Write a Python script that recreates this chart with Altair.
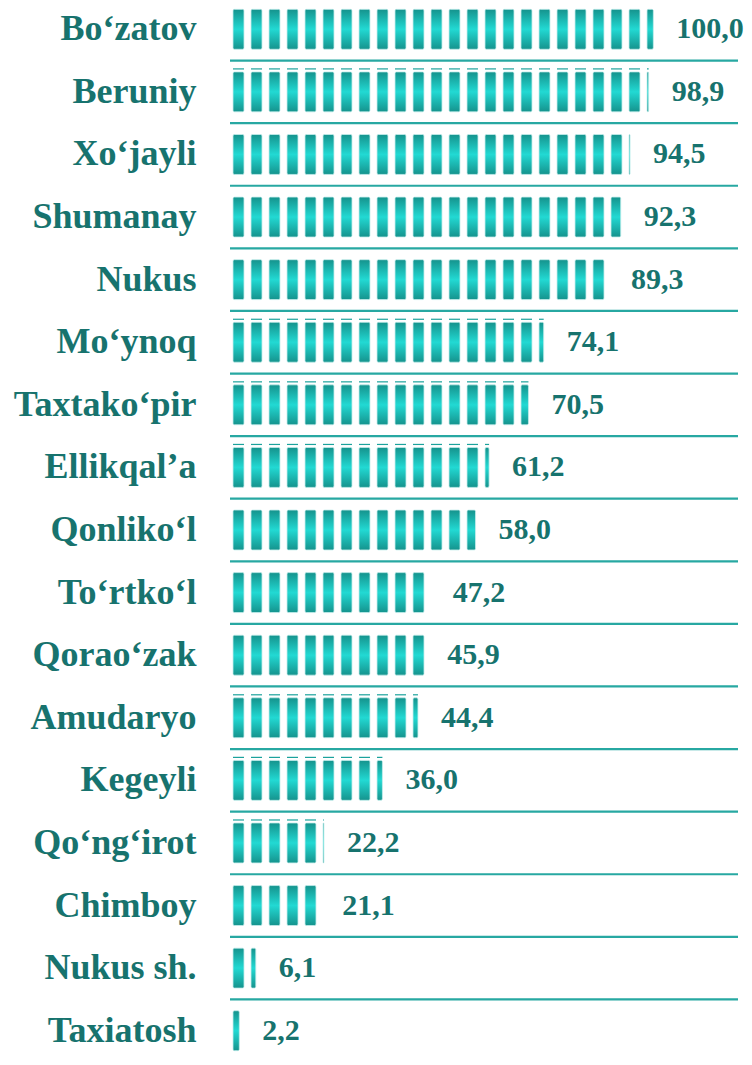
import altair as alt
import pandas as pd

categories = ["Bo‘zatov", "Beruniy", "Xo‘jayli", "Shumanay", "Nukus\u00a0", "Mo‘ynoq",
              "Taxtako‘pir", "Ellikqal’a", "Qonliko‘l", "To‘rtko‘l", "Qorao‘zak",
              "Amudaryo", "Kegeyli", "Qo‘ng‘irot", "Chimboy", "Nukus sh.", "Taxiatosh"]
values = [100.0, 98.9, 94.5, 92.3, 89.3, 74.1, 70.5, 61.2, 58.0, 47.2, 45.9,
          44.4, 36.0, 22.2, 21.1, 6.1, 2.2]
# rows whose pictogram icons carry a thin cap line above them
capped = [False, True, False, False, False, True, True, True, False, False, False,
          True, True, True, False, False, False]

X_MAX = 120
WIDTH = 508
HEIGHT = 1064
U = X_MAX / WIDTH            # data units per pixel
PERIOD = 18 * U              # pictogram cell
OFFSET = 3 * U
SEG_W = 11 * U

seg_rows = []
for c, v, cap in zip(categories, values, capped):
    k = 0
    while True:
        s = k * PERIOD + OFFSET
        if s >= v:
            break
        seg_rows.append({"cat": c, "x0": s, "x1": min(s + SEG_W, v), "cap": cap})
        k += 1
segs = pd.DataFrame(seg_rows)

vals = pd.DataFrame({
    "cat": categories,
    "val": values,
    "lab": [f"{v:.1f}".replace(".", ",") for v in values],
})

FONT = "Liberation Serif, Times New Roman, serif"
TEAL_TXT = "#17736e"
PAD_IN = 0.362
yscale = alt.Scale(domain=categories, paddingInner=PAD_IN, paddingOuter=PAD_IN / 2)
xscale = alt.Scale(domain=[0, X_MAX], nice=False, zero=True)
STEP = HEIGHT / len(categories)
BAND = STEP * (1 - PAD_IN)

grad = alt.Gradient(
    gradient="linear",
    stops=[alt.GradientStop(offset=0, color="#15938d"),
           alt.GradientStop(offset=0.5, color="#22d9d3"),
           alt.GradientStop(offset=1, color="#15938d")],
    x1=0, x2=0, y1=0, y2=1,
)

yaxis = alt.Axis(title=None, ticks=False, domain=False, labelFont=FONT,
                 labelFontSize=36, labelFontWeight="bold", labelColor=TEAL_TXT,
                 labelPadding=34, labelLimit=0)

seps = alt.Chart(vals).transform_calculate(
    xa="0", xb=str(X_MAX)
).mark_rule(color="#27a8a2", strokeWidth=2.2, yOffset=-STEP / 2).encode(
    y=alt.Y("cat:N", scale=yscale, axis=yaxis),
    x=alt.X("xa:Q", scale=xscale, axis=None),
    x2="xb:Q",
)

bars = alt.Chart(segs).mark_bar(
    fill=grad, cornerRadius=1.5, stroke="#c4eeec", strokeWidth=0.8
).encode(
    y=alt.Y("cat:N", scale=yscale, axis=yaxis),
    x=alt.X("x0:Q", scale=xscale, axis=None),
    x2="x1:Q",
)

caps = alt.Chart(segs).transform_filter("datum.cap").mark_rule(
    color="#1ba29c", strokeWidth=1.2, yOffset=-BAND / 2 - 3
).encode(
    y=alt.Y("cat:N", scale=yscale, axis=yaxis),
    x=alt.X("x0:Q", scale=xscale, axis=None),
    x2="x1:Q",
)

labels = alt.Chart(vals).mark_text(
    align="left", baseline="middle", dx=23, font=FONT,
    fontSize=30, fontWeight="bold", color=TEAL_TXT,
).encode(
    y=alt.Y("cat:N", scale=yscale, axis=yaxis),
    x=alt.X("val:Q", scale=xscale, axis=None),
    text="lab:N",
)

chart = alt.layer(seps, bars, caps, labels).properties(
    width=WIDTH, height=HEIGHT,
    autosize=alt.AutoSizeParams(type="none"),
    padding={"left": 222, "top": -10, "right": 6, "bottom": -9},
).configure_view(stroke=None)

chart.save("out.html", embed_options={"renderer": "svg", "actions": False})
